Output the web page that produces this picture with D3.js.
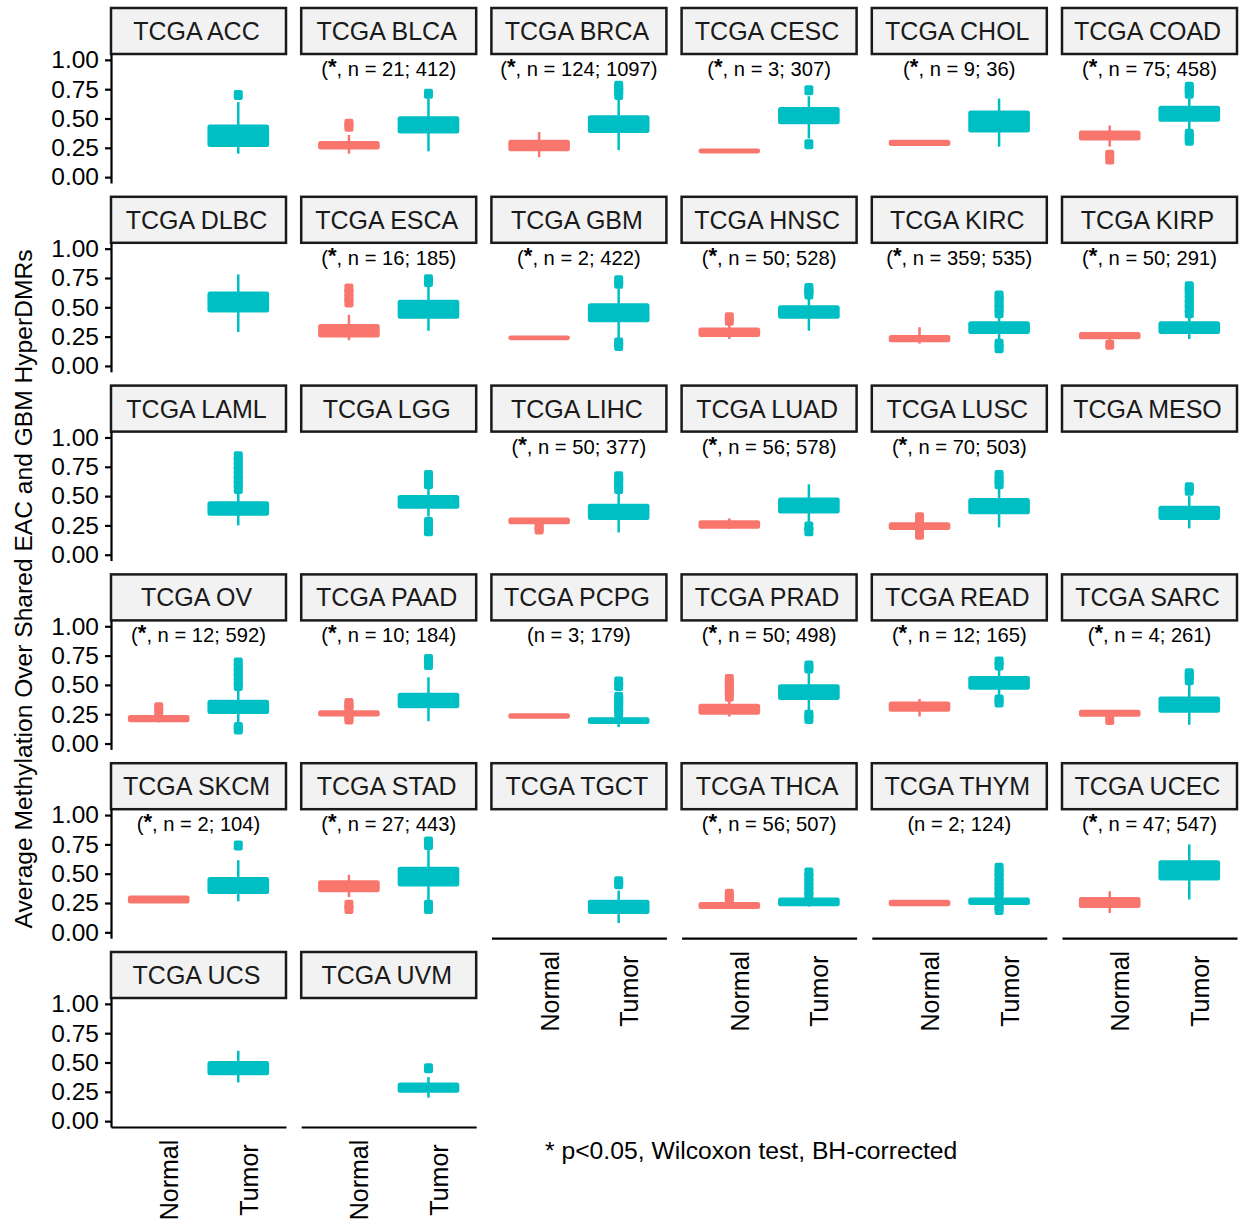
<!DOCTYPE html>
<html>
<head>
<meta charset="utf-8">
<script src="https://cdn.jsdelivr.net/npm/d3@7"></script>
<style>
  body { margin: 0; background: #fff; }
  svg { font-family: "Liberation Sans", Arial, Helvetica, sans-serif; }
</style>
</head>
<body>
<div class="chart"></div>
<script>
// cancer types, in facet order
const cancers = ["ACC","BLCA","BRCA","CESC","CHOL","COAD","DLBC","ESCA","GBM","HNSC","KIRC","KIRP",
  "LAML","LGG","LIHC","LUAD","LUSC","MESO","OV","PAAD","PCPG","PRAD","READ","SARC",
  "SKCM","STAD","TGCT","THCA","THYM","UCEC","UCS","UVM"];
// significance flag and sample sizes (normal; tumor), null = no label
const sig = [0,1,1,1,1,1, 0,1,1,1,1,1, 0,0,1,1,1,0, 1,1,0,1,1,1, 1,1,0,1,0,1, 0,0];
const nNormal = [null,21,124,3,9,75, null,16,2,50,359,50, null,null,50,56,70,null, 12,10,3,50,12,4, 2,27,null,56,2,47, null,null];
const nTumor = [null,412,1097,307,36,458, null,185,422,528,535,291, null,null,377,578,503,null, 592,184,179,498,165,261, 104,443,null,507,124,547, null,null];
const groups = ["Normal", "Tumor"];
// box stats [lower whisker, q1, median, q3, upper whisker], null = no normal samples
const normalBox = [
  null, [0.20,0.245,0.27,0.30,0.36], [0.17,0.23,0.27,0.31,0.385], [0.205,0.21,0.22,0.235,0.24], [0.27,0.275,0.29,0.31,0.315], [0.26,0.32,0.35,0.39,0.44],
  null, [0.22,0.25,0.29,0.35,0.436], [0.225,0.228,0.24,0.252,0.255], [0.23,0.256,0.28,0.32,0.36], [0.19,0.21,0.23,0.256,0.33], [0.22,0.236,0.25,0.28,0.29],
  null, null, [0.26,0.268,0.285,0.31,0.31], [0.22,0.23,0.26,0.285,0.31], [0.21,0.22,0.24,0.268,0.28], null,
  [0.18,0.19,0.21,0.235,0.245], [0.23,0.24,0.255,0.275,0.285], [0.22,0.22,0.235,0.25,0.25], [0.23,0.254,0.29,0.33,0.36], [0.23,0.28,0.31,0.35,0.38], [0.235,0.237,0.255,0.28,0.285],
  [0.25,0.255,0.28,0.305,0.31], [0.30,0.35,0.39,0.436,0.49], null, [0.208,0.208,0.225,0.25,0.25], [0.23,0.23,0.25,0.27,0.27], [0.165,0.216,0.25,0.293,0.35],
  null, null];
const normalOut = [
  [], [0.43,0.455], [], [], [], [0.15,0.19],
  [], [0.54,0.58,0.62,0.66], [], [0.385,0.415], [], [0.18],
  [], [], [0.215,0.235], [], [0.17,0.195,0.30,0.32], [],
  [0.27,0.31], [0.205,0.225,0.30,0.325,0.345], [], [0.40,0.44,0.48,0.52,0.55], [], [0.20],
  [], [0.20,0.235], [], [0.28,0.31,0.33], [], [],
  [], []];
const tumorBox = [
  [0.20,0.265,0.35,0.44,0.64], [0.22,0.38,0.44,0.51,0.67], [0.23,0.385,0.45,0.52,0.66], [0.33,0.46,0.53,0.59,0.69], [0.26,0.39,0.47,0.56,0.67], [0.40,0.48,0.54,0.60,0.67],
  [0.29,0.464,0.54,0.626,0.78], [0.30,0.41,0.48,0.555,0.68], [0.23,0.38,0.45,0.527,0.66], [0.30,0.41,0.46,0.51,0.58], [0.22,0.28,0.32,0.373,0.42], [0.23,0.28,0.32,0.373,0.42],
  [0.25,0.34,0.39,0.447,0.53], [0.325,0.40,0.45,0.50,0.56], [0.19,0.305,0.37,0.427,0.53], [0.28,0.36,0.42,0.48,0.60], [0.233,0.353,0.41,0.476,0.57], [0.225,0.305,0.36,0.41,0.50],
  [0.165,0.26,0.31,0.365,0.46], [0.19,0.31,0.37,0.425,0.565], [0.14,0.175,0.195,0.215,0.235], [0.28,0.38,0.44,0.496,0.60], [0.41,0.467,0.52,0.567,0.64], [0.16,0.27,0.33,0.393,0.50],
  [0.265,0.336,0.40,0.464,0.615], [0.265,0.40,0.47,0.55,0.71], [0.08,0.165,0.22,0.27,0.356], [0.22,0.23,0.255,0.288,0.29], [0.235,0.242,0.265,0.288,0.30], [0.28,0.45,0.53,0.607,0.75],
  [0.33,0.40,0.45,0.504,0.60], [0.20,0.25,0.285,0.32,0.376]];
const tumorOut = [
  [0.70], [0.71], [0.70,0.73,0.76,0.78], [0.28,0.74], [], [0.31,0.34,0.37,0.71,0.74,0.77],
  [], [0.715,0.74], [0.17,0.20,0.70,0.73], [0.61,0.64,0.665], [0.15,0.19,0.45,0.49,0.53,0.57,0.60], [0.45,0.49,0.53,0.57,0.61,0.65,0.68],
  [0.56,0.60,0.64,0.68,0.72,0.76,0.80,0.84], [0.20,0.24,0.28,0.60,0.64,0.68], [0.56,0.60,0.64,0.67], [0.20,0.24], [0.60,0.64,0.68], [0.545,0.575],
  [0.12,0.14,0.49,0.53,0.57,0.61,0.65,0.69], [0.67,0.72], [0.26,0.30,0.34,0.37,0.40,0.49,0.53], [0.21,0.245,0.64,0.665], [0.35,0.375,0.665,0.70], [0.54,0.58,0.60],
  [0.74], [0.20,0.235,0.745,0.775], [0.41,0.435], [0.31,0.35,0.39,0.43,0.47,0.51], [0.19,0.22,0.31,0.35,0.39,0.43,0.47,0.51,0.55], [],
  [], [0.45]];
const yTicks = [0, 0.25, 0.5, 0.75, 1];

const config = {
  width: 1241, height: 1220,
  left: 111, top: 54,
  panelW: 175, panelH: 129,
  colStep: 190.2, rowStep: 188.8,
  stripH: 46, ncol: 6
};
const colors = { Normal: "#F8766D", Tumor: "#00BFC4" };

const svg = d3.select(".chart").append("svg")
  .attr("width", config.width)
  .attr("height", config.height);

const x = d3.scalePoint().domain(groups).range([0, config.panelW]).padding(0.6);
const y = d3.scaleLinear().domain([-0.05, 1.05]).range([config.panelH, 0]);
const boxW = x.step() * 0.75;

cancers.forEach((name, i) => {
  const col = i % config.ncol, row = Math.floor(i / config.ncol);
  const g = svg.append("g")
    .attr("transform", `translate(${config.left + col * config.colStep},${config.top + row * config.rowStep})`);

  // strip
  g.append("rect")
    .attr("x", 0).attr("y", -config.stripH)
    .attr("width", config.panelW).attr("height", config.stripH)
    .attr("fill", "#f2f2f2").attr("stroke", "#1a1a1a").attr("stroke-width", 2.5);
  g.append("text")
    .attr("x", config.panelW / 2 - 2).attr("y", -config.stripH / 2)
    .attr("dy", "0.36em")
    .attr("text-anchor", "middle")
    .attr("font-size", 25).attr("fill", "#1a1a1a")
    .text("TCGA " + name);

  // n label
  if (nNormal[i] !== null) {
    const t = g.append("text")
      .attr("x", config.panelW / 2).attr("y", 22)
      .attr("text-anchor", "middle")
      .attr("font-size", 20.2).attr("fill", "#000");
    t.append("tspan").text("(");
    if (sig[i]) {
      t.append("tspan").attr("dy", -2).attr("font-weight", "bold").attr("font-size", 22).text("*");
      t.append("tspan").attr("dy", 2).text(", ");
    }
    t.append("tspan").text(`n = ${nNormal[i]}; ${nTumor[i]})`);
  }

  // boxes
  [[groups[0], normalBox[i], normalOut[i]], [groups[1], tumorBox[i], tumorOut[i]]].forEach(([grp, s, outs]) => {
    if (!s) return;
    const cx = x(grp), c = colors[grp];
    const bg = g.append("g");
    bg.append("line")
      .attr("x1", cx).attr("x2", cx)
      .attr("y1", y(s[0])).attr("y2", y(s[4]))
      .attr("stroke", c).attr("stroke-width", 2.5);
    bg.append("rect")
      .attr("x", cx - boxW / 2).attr("width", boxW)
      .attr("y", y(s[3])).attr("height", Math.max(0.5, y(s[1]) - y(s[3])))
      .attr("rx", 1.5)
      .attr("fill", c).attr("stroke", c).attr("stroke-width", 2);
    bg.append("line")
      .attr("x1", cx - boxW / 2).attr("x2", cx + boxW / 2)
      .attr("y1", y(s[2])).attr("y2", y(s[2]))
      .attr("stroke", c).attr("stroke-width", 2);
    bg.selectAll("rect.out").data(outs).enter().append("rect")
      .attr("class", "out")
      .attr("x", cx - 4.5).attr("width", 9)
      .attr("y", d => y(d) - 5).attr("height", 10)
      .attr("rx", 2)
      .attr("fill", c);
  });

  // y axis on first column
  if (col === 0) {
    const ya = g.append("g")
      .call(d3.axisLeft(y).tickValues(yTicks).tickFormat(d3.format(".2f")).tickSize(6).tickSizeOuter(0).tickPadding(6));
    ya.select(".domain").attr("stroke", "#000").attr("stroke-width", 2.2);
    ya.selectAll(".tick line").attr("stroke", "#000").attr("stroke-width", 2.2);
    ya.selectAll(".tick text").attr("font-size", 24.5).attr("fill", "#000").attr("font-family", null);
  }

  // x axis on the lowest panel of each column
  const lastInCol = i + config.ncol >= cancers.length;
  if (lastInCol) {
    const xa = g.append("g")
      .attr("transform", `translate(0,${config.panelH})`)
      .call(d3.axisBottom(x).tickSize(0).tickSizeOuter(0));
    xa.select(".domain").attr("stroke", "#000").attr("stroke-width", 2.2);
    xa.selectAll(".tick text")
      .attr("transform", "rotate(-90)")
      .attr("text-anchor", "middle")
      .attr("x", -53).attr("y", 19).attr("dy", 0)
      .attr("font-size", 25).attr("fill", "#000").attr("font-family", null);
  }
});

// y axis title
svg.append("text")
  .attr("transform", "translate(32,589) rotate(-90)")
  .attr("text-anchor", "middle")
  .attr("font-size", 24.6).attr("fill", "#000")
  .text("Average Methylation Over Shared EAC and GBM HyperDMRs");

// footnote
svg.append("text")
  .attr("x", 545).attr("y", 1159)
  .attr("font-size", 24.7).attr("fill", "#000")
  .text("* p<0.05, Wilcoxon test, BH-corrected");
</script>
</body>
</html>
